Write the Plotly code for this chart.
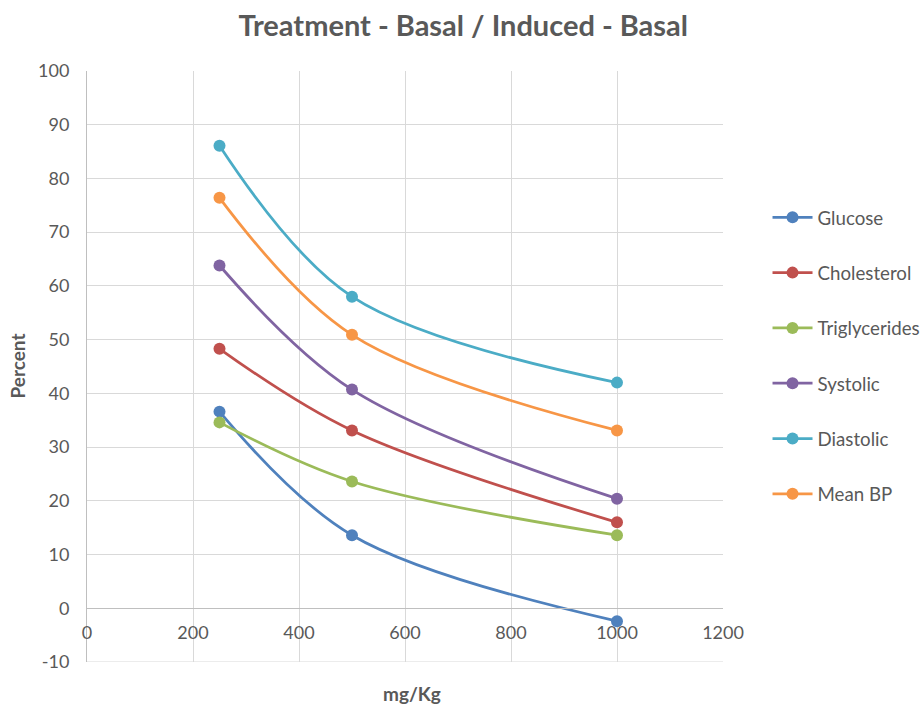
import plotly.graph_objects as go

dose = [250, 500, 1000]
glucose = [36.6, 13.6, -2.4]
cholesterol = [48.3, 33.1, 16.0]
triglycerides = [34.6, 23.6, 13.6]
systolic = [63.8, 40.7, 20.4]
diastolic = [86.1, 58.0, 42.0]
mean_bp = [76.4, 50.9, 33.1]

x_ticks = [0, 200, 400, 600, 800, 1000, 1200]
y_ticks = [-10, 0, 10, 20, 30, 40, 50, 60, 70, 80, 90, 100]
y_tick_labels = ["-10", "0", "10", "20", "30", "40", "50", "60", "70", "80", "90", "100"]
y_min, y_max = y_ticks[0], y_ticks[-1]

series = [
    ("Glucose", glucose, "#4F81BD"),
    ("Cholesterol", cholesterol, "#C0504D"),
    ("Triglycerides", triglycerides, "#9BBB59"),
    ("Systolic", systolic, "#8064A2"),
    ("Diastolic", diastolic, "#4BACC6"),
    ("Mean BP", mean_bp, "#F79646"),
]

FONT = "Lato, 'Open Sans', sans-serif"
GRID = "#D9D9D9"
fig = go.Figure()
for i, (name, vals, col) in enumerate(series):
    fig.add_trace(go.Scatter(
        x=dose, y=vals, name=name, mode="lines+markers",
        line=dict(color=col, width=2.75, shape="spline", smoothing=1),
        marker=dict(color=col, size=12),
        legendgroup=f"g{i}",
    ))

fig.update_layout(
    width=921, height=707,
    margin=dict(l=87, r=198, t=71, b=45, autoexpand=False),
    paper_bgcolor="white", plot_bgcolor="white",
    font=dict(family=FONT, color="#595959", size=18),
    title=dict(text="<b>Treatment - Basal / Induced - Basal</b>", x=0.503, xref="container",
               xanchor="center", y=0.963, yanchor="middle",
               font=dict(size=29, color="#595959", family=FONT)),
    legend=dict(x=1.07, xanchor="left", y=0.784, yanchor="top",
                tracegroupgap=28, font=dict(size=18.7, color="#595959"),
                itemwidth=40),
    showlegend=True,
)
fig.update_xaxes(range=[x_ticks[0], x_ticks[-1]], tickvals=x_ticks,
                 showgrid=True, gridcolor=GRID, gridwidth=1,
                 showline=True, linecolor="#BFBFBF", linewidth=1,
                 anchor="free", position=(0 - y_min) / (y_max - y_min), zeroline=False,
                 automargin=False, ticks="", ticklabelstandoff=8,
                 tickfont=dict(size=18, color="#595959"))
fig.update_yaxes(range=[y_min, y_max], tickvals=y_ticks, ticktext=y_tick_labels,
                 showgrid=True, gridcolor=GRID, gridwidth=1,
                 showline=True, linecolor="#BFBFBF", linewidth=1, zeroline=False,
                 automargin=False, ticks="", ticklabelstandoff=13,
                 tickfont=dict(size=18, color="#595959"))
# bottom gridline at the y-axis minimum (frame edge)
fig.add_shape(type="line", xref="paper", yref="y", x0=0, x1=1, y0=y_min, y1=y_min,
              line=dict(color=GRID, width=1), layer="below")
fig.add_annotation(text="<b>Percent</b>", xref="paper", yref="paper", x=-0.11, y=0.5,
                   xanchor="center", yanchor="middle", textangle=-90, showarrow=False,
                   font=dict(size=19, color="#595959"))
fig.add_annotation(text="<b>mg/Kg</b>", xref="paper", yref="paper", x=0.511, y=-0.054,
                   yanchor="middle", showarrow=False, font=dict(size=19, color="#595959"))
fig.write_html("out.html", config={"displayModeBar": False},
               post_script="document.body.style.margin='0';")
